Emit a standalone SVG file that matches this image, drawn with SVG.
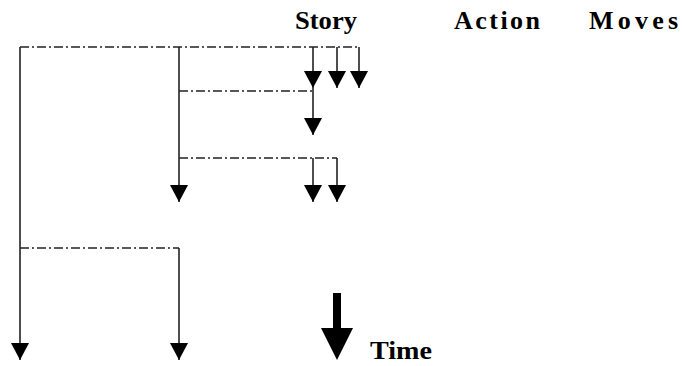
<svg xmlns="http://www.w3.org/2000/svg" width="682" height="366" viewBox="0 0 682 366">
  <style>
    .lbl { font-family: "Liberation Serif", "Times New Roman", serif; font-weight: bold; font-size: 26px; fill: #000; }
    .dd { stroke: #222; stroke-width: 1.6; fill: none; stroke-dasharray: 9 3 2 3; }
    .ar { stroke: #222; stroke-width: 1.6; fill: none; marker-end: url(#head); }
  </style>
  <defs>
    <marker id="head" viewBox="0 0 17 18" refX="17" refY="9" markerWidth="17" markerHeight="18" markerUnits="userSpaceOnUse" orient="auto">
      <path d="M0,0 L17,9 L0,18 Z" fill="#000"/>
    </marker>
  </defs>
  <rect width="682" height="366" fill="#fff"/>
  <g id="labels">
    <g id="story"><text class="lbl" x="295" y="29" textLength="62" lengthAdjust="spacingAndGlyphs">Story</text></g>
    <g id="action"><text class="lbl" x="454" y="29" textLength="86">Action</text></g>
    <g id="moves"><text class="lbl" x="589" y="29" textLength="89">Moves</text></g>
    <g id="time"><text class="lbl" x="370" y="359" textLength="62" lengthAdjust="spacingAndGlyphs">Time</text></g>
  </g>
  <g id="connectors">
    <path class="dd" d="M20,47 H359"/>
    <path class="dd" d="M179,91 H313"/>
    <path class="dd" d="M179,158 H337"/>
    <path class="dd" d="M20,248 H179"/>
    <path class="ar" d="M20,47 V360"/>
    <path class="ar" d="M179,47 V202"/>
    <path class="ar" d="M179,248 V360"/>
    <path class="ar" d="M313,47 V88"/>
    <path class="ar" d="M313,88 V135"/>
    <path class="ar" d="M337,47 V88"/>
    <path class="ar" d="M359,47 V88"/>
    <path class="ar" d="M313,158 V202"/>
    <path class="ar" d="M337,158 V202"/>
    <g id="time-arrow">
      <rect x="333" y="293" width="8" height="36" fill="#000"/>
      <path d="M321,328 L353,328 L337,360 Z" fill="#000"/>
    </g>
  </g>
</svg>
